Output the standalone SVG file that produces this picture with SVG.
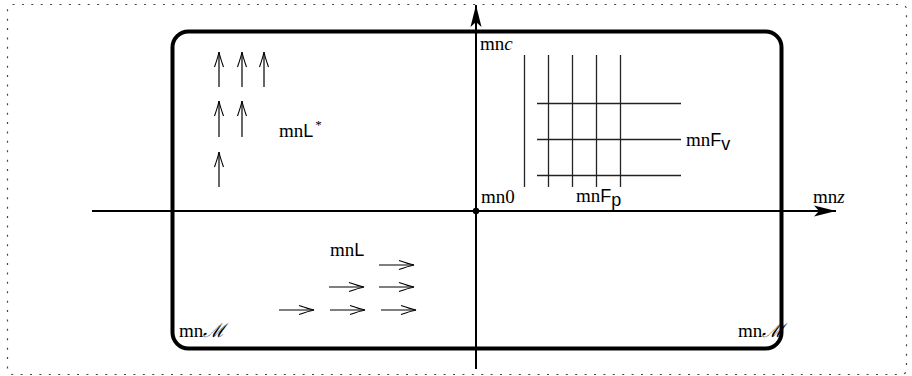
<svg xmlns="http://www.w3.org/2000/svg" width="912" height="376" viewBox="0 0 912 376">
<style>
.serif{font-family:"Liberation Serif","DejaVu Serif",serif;font-size:19px;fill:#000}
.sans{font-family:"Liberation Sans","DejaVu Sans",sans-serif;font-size:18px}
.it{font-style:italic}
.axis{stroke:#000;stroke-width:2;fill:none}
.small{stroke:#000;stroke-width:1.2;fill:none}
.grid{stroke:#222;stroke-width:1.3;fill:none}
</style>
<defs>
<marker id="stealth" markerUnits="userSpaceOnUse" markerWidth="26" markerHeight="14" viewBox="-22 -7 26 14" refX="0" refY="0" orient="auto">
<path d="M0 0 L-22 -5.5 L-17 0 L-22 5.5 Z" fill="#000"/>
</marker>
<marker id="to" markerUnits="userSpaceOnUse" markerWidth="20" markerHeight="12" viewBox="-17 -6 20 12" refX="0" refY="0" orient="auto">
<path d="M-15 -4.5 Q-5 -1 0 0 Q-5 1 -15 4.5" fill="none" stroke="#000" stroke-width="1.1"/>
</marker>
</defs>
<rect x="7.5" y="4.5" width="899" height="370" rx="5" fill="none" stroke="#444" stroke-width="1.2" stroke-dasharray="2 7.4"/>
<g id="manifold">
<rect x="172.5" y="31.5" width="609" height="317" rx="16" fill="none" stroke="#000" stroke-width="4"/>
<text class="serif" x="179" y="337">mn<tspan class="it">ℳ</tspan></text>
<text class="serif" x="738" y="337">mn<tspan class="it">ℳ</tspan></text>
</g>
<g id="connectors">
<line class="axis" x1="92" y1="211" x2="836" y2="211" marker-end="url(#stealth)"/>
<line class="axis" x1="476" y1="369" x2="476" y2="5" marker-end="url(#stealth)"/>
</g>
<g id="origin">
<circle cx="476" cy="211" r="3.2" fill="#000"/>
<text class="serif" x="481" y="203">mn0</text>
</g>
<g id="axis-labels">
<text class="serif" x="480" y="50">mn<tspan class="it">c</tspan></text>
<text class="serif" x="813" y="203">mn<tspan class="it">z</tspan></text>
</g>
<g id="foliation">
<line class="grid" x1="524.5" y1="55" x2="524.5" y2="187"/>
<line class="grid" x1="548.5" y1="55" x2="548.5" y2="187"/>
<line class="grid" x1="572.5" y1="55" x2="572.5" y2="187"/>
<line class="grid" x1="596.5" y1="55" x2="596.5" y2="187"/>
<line class="grid" x1="620.5" y1="55" x2="620.5" y2="187"/>
<line class="grid" x1="537" y1="103.5" x2="681" y2="103.5"/>
<line class="grid" x1="537" y1="139.5" x2="681" y2="139.5"/>
<line class="grid" x1="537" y1="175.5" x2="681" y2="175.5"/>
<text class="serif" x="576" y="202">mn<tspan class="sans">F</tspan><tspan class="sans" font-size="14" dy="4">p</tspan></text>
<text class="serif" x="686" y="146">mn<tspan class="sans">F</tspan><tspan class="sans" font-size="14" dy="4">v</tspan></text>
</g>
<g id="L-star">
<line class="small" x1="219" y1="87" x2="219" y2="52" marker-end="url(#to)"/>
<line class="small" x1="242" y1="87" x2="242" y2="52" marker-end="url(#to)"/>
<line class="small" x1="264" y1="87" x2="264" y2="52" marker-end="url(#to)"/>
<line class="small" x1="219" y1="137" x2="219" y2="101" marker-end="url(#to)"/>
<line class="small" x1="242" y1="137" x2="242" y2="101" marker-end="url(#to)"/>
<line class="small" x1="219" y1="187" x2="219" y2="152" marker-end="url(#to)"/>
<text class="serif" x="279" y="137">mn<tspan class="sans">L</tspan><tspan font-size="13" dx="2" dy="-8">*</tspan></text>
</g>
<g id="L">
<line class="small" x1="379" y1="265" x2="414" y2="265" marker-end="url(#to)"/>
<line class="small" x1="329" y1="287" x2="364" y2="287" marker-end="url(#to)"/>
<line class="small" x1="379" y1="287" x2="414" y2="287" marker-end="url(#to)"/>
<line class="small" x1="279" y1="310" x2="314" y2="310" marker-end="url(#to)"/>
<line class="small" x1="330" y1="310" x2="365" y2="310" marker-end="url(#to)"/>
<line class="small" x1="381" y1="310" x2="416" y2="310" marker-end="url(#to)"/>
<text class="serif" x="330" y="256">mn<tspan class="sans">L</tspan></text>
</g>
</svg>
